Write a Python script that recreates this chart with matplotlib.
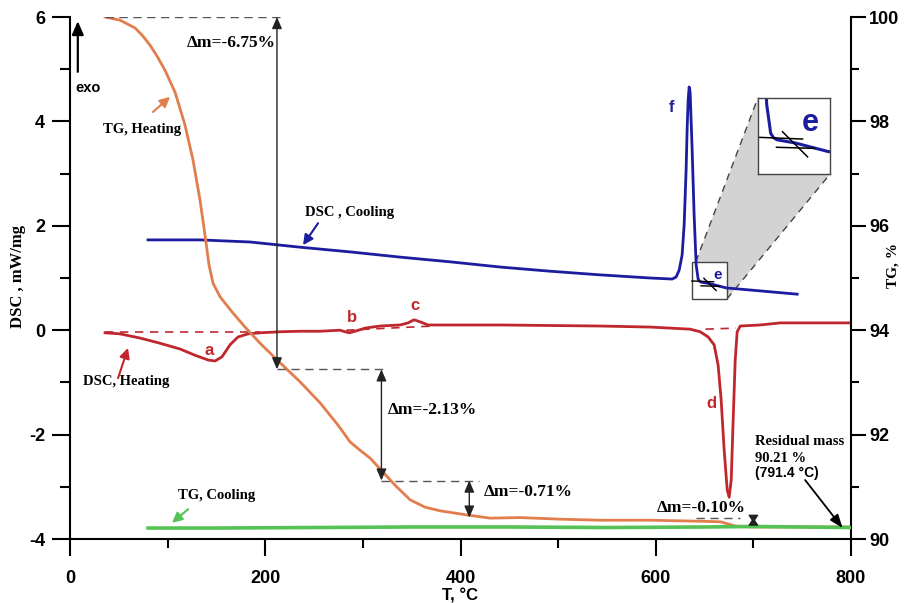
import matplotlib.pyplot as plt
from matplotlib.patches import Polygon, Rectangle

plt.rcParams['font.family'] = ['Liberation Sans', 'DejaVu Sans']
plt.rcParams['font.weight'] = 'bold'
plt.rcParams['axes.unicode_minus'] = False

RED = '#c0272d'
BLUE = '#1c1ca0'
ORANGE = '#e27d4e'
GREEN = '#55c255'
SERIF = ['Liberation Serif', 'DejaVu Serif']

# DSC heating, mW/mg
t_dsc_heat = [35.9, 51.2, 71.7, 92.2, 112.7, 128.1, 141.4, 148.6, 155.7, 163.9, 172.1, 182.4,
              194.7, 215.2, 235.7, 256.1, 276.6, 281.8, 285.9, 292.0, 302.3, 317.6, 338.1,
              346.3, 352.5, 358.6, 366.8, 389.3, 440.6, 491.8, 543.0, 594.3, 635.2, 645.5,
              653.7, 659.8, 663.9, 667.0, 670.1, 673.2, 675.2, 677.3, 679.3, 681.4, 683.4,
              686.5, 707.0, 727.5, 768.4, 800.0]
dsc_heat = [-0.05, -0.07, -0.15, -0.25, -0.36, -0.48, -0.57, -0.59, -0.51, -0.28, -0.13, -0.07,
            -0.05, -0.03, -0.02, -0.02, 0.00, -0.03, -0.05, -0.02, 0.04, 0.08, 0.10,
            0.14, 0.20, 0.16, 0.10, 0.10, 0.10, 0.09, 0.08, 0.06, 0.02, -0.03,
            -0.13, -0.28, -0.67, -1.34, -2.30, -3.06, -3.20, -2.87, -1.72, -0.57, -0.03,
            0.08, 0.10, 0.14, 0.14, 0.14]

# DSC cooling, mW/mg
t_dsc_cool = [79.9, 133.2, 184.4, 235.7, 286.9, 338.1, 389.3, 440.6, 491.8, 543.0, 594.3,
              616.8, 620.9, 624.0, 627.0, 629.1, 631.1, 632.2, 633.2, 634.2, 635.2, 637.3,
              639.3, 641.4, 643.4, 644.8, 646.5, 655.7, 672.1, 696.7, 744.9]
dsc_cool = [1.73, 1.73, 1.69, 1.59, 1.50, 1.40, 1.31, 1.21, 1.13, 1.06, 1.00,
            0.98, 1.02, 1.15, 1.44, 2.02, 3.07, 3.89, 4.41, 4.66, 4.56, 3.45,
            2.21, 1.25, 0.98, 0.94, 0.92, 0.89, 0.81, 0.77, 0.69]

# TG heating, %
t_tg_heat = [35.9, 51.2, 66.6, 74.0, 82.0, 89.5, 97.3, 107.6, 117.8, 126.0, 133.2, 138.3, 142.4,
             146.5, 153.7, 166.0, 179.3, 194.7, 210.0, 235.7, 256.1, 274.6, 286.9, 297.1,
             307.4, 319.7, 333.0, 348.4, 363.7, 379.1, 406.8, 430.3, 461.1, 502.0, 543.0,
             594.3, 645.5, 666.0, 681.4, 696.7, 748.0, 800.0]
tg_heat = [100.00, 99.94, 99.79, 99.65, 99.46, 99.24, 98.98, 98.56, 97.93, 97.26, 96.49, 95.82,
           95.25, 94.90, 94.64, 94.35, 94.06, 93.75, 93.47, 93.01, 92.61, 92.18, 91.86, 91.70,
           91.55, 91.30, 91.03, 90.75, 90.61, 90.54, 90.46, 90.40, 90.41, 90.38, 90.36,
           90.36, 90.34, 90.33, 90.25, 90.23, 90.23, 90.23]

# TG cooling, %
t_tg_cool = [80, 150, 250, 350, 450, 550, 650, 700, 750, 800]
tg_cool = [90.21, 90.21, 90.22, 90.23, 90.23, 90.22, 90.23, 90.24, 90.23, 90.22]

# mass-loss steps
dm_steps = [-6.75, -2.13, -0.71, -0.10]
dm_temps = [212, 319, 409, 700]
tg_start = 100.0
residual_mass = 90.21
residual_temp = 791.4

# onset construction of peak e
e_lines = [([637.0, 659.3], [0.943, 0.927]),
           ([646.3, 665.2], [0.850, 0.840]),
           ([649.3, 661.8], [0.995, 0.761])]

fig = plt.figure(figsize=(9.08, 6.03), dpi=100)
ax = fig.add_axes([70 / 908, 64 / 603, 781 / 908, 522 / 603])
ax2 = ax.twinx()

ax.plot(t_dsc_heat, dsc_heat, color=RED, lw=2, zorder=3)
ax.plot(t_dsc_cool, dsc_cool, color=BLUE, lw=2, zorder=3)
ax2.plot(t_tg_heat, tg_heat, color=ORANGE, lw=2, zorder=2)
ax2.plot(t_tg_cool, tg_cool, color=GREEN, lw=2.6, zorder=3)

# baselines under the DSC heating peaks
red_dash = dict(color=RED, lw=1.2, ls=(0, (5, 4)), zorder=2)
ax.plot([36, 195], [-0.04, -0.04], **red_dash)
ax.plot([283, 372], [0.0, 0.08], **red_dash)
ax.plot([651, 682], [0.02, 0.04], **red_dash)

# zoom of the onset of e
zx0, zx1, zy0, zy1 = 637, 673, 0.60, 1.31
ix0, ix1, iy0, iy1 = 704.6, 778.5, 2.99, 4.45
ax.add_patch(Polygon([(zx0 + 4, zy1), (ix0, iy1), (ix1, iy0), (zx1, zy0)],
                     closed=True, facecolor='#d3d3d3', edgecolor='none', zorder=0.5))
ax.plot([zx0 + 4, ix0], [zy1, iy1], color='#444', lw=1, ls=(0, (5, 4)), zorder=0.6)
ax.plot([zx1, ix1], [zy0, iy0], color='#444', lw=1, ls=(0, (5, 4)), zorder=0.6)
ax.add_patch(Rectangle((zx0, zy0), zx1 - zx0, zy1 - zy0, facecolor='white',
                       edgecolor='#444', lw=1, zorder=0.7))
for xs, ys in e_lines:
    ax.plot(xs, ys, color='k', lw=1, zorder=4)

ins = ax.inset_axes([ix0, iy0, ix1 - ix0, iy1 - iy0], transform=ax.transData)
ins.plot(t_dsc_cool, dsc_cool, color=BLUE, lw=2.2)
for xs, ys in e_lines:
    ins.plot(xs, ys, color='k', lw=1.1)
ins.set_xlim(zx0, zx1)
ins.set_ylim(zy0, zy1)
ins.set_xticks([])
ins.set_yticks([])
for s in ins.spines.values():
    s.set_linewidth(1)
    s.set_color('#444')
ins.text(663, 1.08, 'e', color=BLUE, fontsize=22, ha='center', va='center')

# mass-loss steps on the TG curve
levels = [tg_start]
for d in dm_steps:
    levels.append(levels[-1] + d)
guide_spans = [(36, 220), (212, 326), (319, 419), (641, 686)]
for (x0, x1), lv in zip(guide_spans, levels):
    ax2.plot([x0, x1], [lv, lv], color='#555', lw=1, ls=(0, (6, 4)))
for T, top, bot in zip(dm_temps, levels[:-1], levels[1:]):
    hl = 0.7 if top - bot > 0.3 else 0.45
    ax2.annotate('', xy=(T, bot), xytext=(T, top),
                 arrowprops=dict(arrowstyle=f'<|-|>,head_length={hl},head_width=0.3',
                                 color='#222', lw=1, shrinkA=0, shrinkB=0))
dm_text_pos = [(120, 5.50), (325, -1.53), (424, -3.10), (601, -3.41)]
for (x, y), d in zip(dm_text_pos, dm_steps):
    ax.text(x, y, f'Δm={d:.2f}%', family=SERIF, fontsize=12.5, va='center')

ax2.annotate('', xy=(residual_temp, residual_mass), xytext=(753, 91.13),
             arrowprops=dict(arrowstyle='-|>,head_length=0.8,head_width=0.3',
                             color='k', lw=1.3, shrinkA=0, shrinkB=0))
ax.text(702, -2.14, 'Residual mass', family=SERIF, fontsize=10.5, va='center')
ax.text(702, -2.45, f'{residual_mass:.2f} %', family=SERIF, fontsize=10.5, va='center')
ax.text(702, -2.74, f'({residual_temp} °C)', fontsize=10, va='center')


def pointer(start, end, color):
    ax.annotate('', xy=end, xytext=start,
                arrowprops=dict(arrowstyle='-|>,head_length=0.6,head_width=0.3',
                                color=color, lw=1.5, shrinkA=0, shrinkB=0))


ax.text(34, 3.84, 'TG, Heating', family=SERIF, fontsize=10.5, va='center')
pointer((85.0, 4.18), (102.5, 4.47), ORANGE)
ax.text(241, 2.25, 'DSC , Cooling', family=SERIF, fontsize=10.5, va='center')
pointer((254.1, 2.05), (238.7, 1.63), BLUE)
ax.text(13, -0.99, 'DSC, Heating', family=SERIF, fontsize=10.5, va='center')
pointer((49.2, -0.92), (59.4, -0.34), RED)
ax.text(111, -3.16, 'TG, Cooling', family=SERIF, fontsize=10.5, va='center')
pointer((120.9, -3.43), (104.5, -3.69), GREEN)

# exo direction
ax.annotate('', xy=(8, 5.92), xytext=(8, 4.95),
            arrowprops=dict(arrowstyle='-|>,head_length=0.8,head_width=0.35',
                            color='k', lw=1.6, shrinkA=0, shrinkB=0))
ax.text(5, 4.64, 'exo', fontsize=10.5, va='center')

# peak letters
for lab, x, y in [('a', 142.4, -0.38), ('b', 288.9, 0.25), ('c', 353.5, 0.48), ('d', 656.8, -1.41)]:
    ax.text(x, y, lab, color=RED, fontsize=12, ha='center', va='center')
ax.text(615.8, 4.26, 'f', color=BLUE, fontsize=12, ha='center', va='center')
ax.text(662.9, 1.06, 'e', color=BLUE, fontsize=11, ha='center', va='center')

# axes
ax.set_xlim(0, 800)
ax.set_ylim(-4, 6)
ax2.set_ylim(90, 100)
ax.set_xticks([0, 200, 400, 600, 800])
ax.set_xticks([100, 300, 500, 700], minor=True)
ax.set_yticks([-4, -2, 0, 2, 4, 6])
ax.set_yticks([-3, -1, 1, 3, 5], minor=True)
ax2.set_yticks([90, 92, 94, 96, 98, 100])
ax2.set_yticks([91, 93, 95, 97, 99], minor=True)

ax.spines['top'].set_visible(False)
ax.spines['right'].set_visible(False)
ax2.spines['top'].set_visible(False)
ax2.spines['left'].set_visible(False)
ax2.spines['bottom'].set_visible(False)
for s in ('left', 'bottom'):
    ax.spines[s].set_linewidth(1.5)
ax2.spines['right'].set_linewidth(1.5)

ax.tick_params(axis='x', which='major', length=12, width=1.5, pad=10, labelsize=13)
ax.tick_params(axis='x', which='minor', length=6.5, width=1.5)
ax.tick_params(axis='y', which='major', length=13, width=1.5, pad=5, labelsize=13)
ax.tick_params(axis='y', which='minor', length=7, width=1.5)
ax2.tick_params(axis='y', which='major', length=11, width=1.5, pad=2, labelsize=13)
ax2.tick_params(axis='y', which='minor', length=5.5, width=1.5)

fig.text(18 / 908, 1 - 277 / 603, 'DSC , mW/mg', family=SERIF, fontsize=12,
         rotation=90, ha='center', va='center')
fig.text(893 / 908, 1 - 265 / 603, 'TG, %', family=SERIF, fontsize=11,
         rotation=90, ha='center', va='center')
fig.text(460 / 908, 1 - 596 / 603, 'T, °C', fontsize=12, ha='center', va='center')

fig.savefig('out.png', dpi=100)
